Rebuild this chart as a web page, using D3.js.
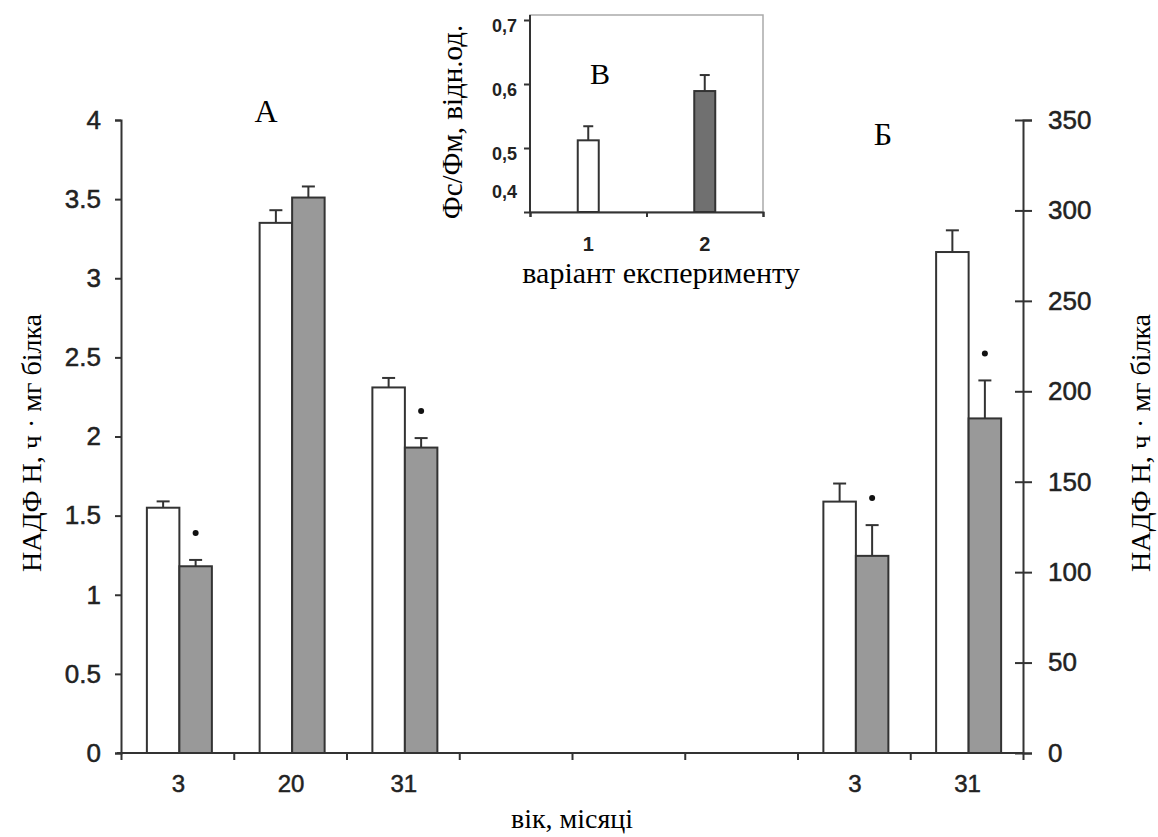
<!DOCTYPE html>
<html>
<head>
<meta charset="utf-8">
<script src="https://cdn.jsdelivr.net/npm/d3@7"></script>
<style>
  body { margin: 0; background: #fff; }
  svg { display: block; }
</style>
</head>
<body>
<svg width="1158" height="837"></svg>
<script>
// Chart data: two panels on one x axis (A on the left scale, Б on the right scale)
//   plus a small inset (В).

var slotLabels = ["3", "20", "31", "", "", "", "3", "31"];

// Panel A (left axis)
var aSlots = [0, 1, 2];
var aControl = [1.55, 3.35, 2.31];
var aControlErr = [0.04, 0.08, 0.06];
var aTreated = [1.18, 3.51, 1.93];
var aTreatedErr = [0.04, 0.07, 0.06];
var aSignif = [true, false, true];

// Panel Б (right axis)
var bSlots = [6, 7];
var bControl = [139, 277];
var bControlErr = [10, 12];
var bTreated = [109, 185];
var bTreatedErr = [17, 21];
var bSignif = [true, true];

var leftTicks = [0, 0.5, 1, 1.5, 2, 2.5, 3, 3.5, 4];
var rightTicks = [0, 50, 100, 150, 200, 250, 300, 350];

// Inset В
var insetCats = ["1", "2"];
var insetVals = [0.512, 0.589];
var insetErr = [0.022, 0.025];
var insetTicks = [0.4, 0.5, 0.6, 0.7];

var axisColor = "#333";
var barStroke = "#333";
var greyFill = "#999";
var sans = "'Liberation Sans', Arial, sans-serif";
var serif = "'Liberation Serif', 'Times New Roman', serif";

var svg = d3.select("svg");

var plot = {left: 121, right: 1023, top: 120, bottom: 753};

// Edges of the 8 slots (ticks sit between categories, Excel style)
var xEdge = d3.scaleLinear().domain([0, slotLabels.length]).range([plot.left, plot.right]);
var xBand = d3.scaleBand().domain(d3.range(slotLabels.length)).range([plot.left, plot.right]);

var yLeft = d3.scaleLinear().domain([0, 4]).range([plot.bottom, plot.top]);
var yRight = d3.scaleLinear().domain([0, 350]).range([plot.bottom, plot.top]);

var barW = 32.5;

function drawPairs(slots, control, controlErr, treated, treatedErr, signif, y) {
    var rows = slots.map(function(s, i) {
        return [
            {slot: s, k: 0, v: control[i], e: controlErr[i], sig: false},
            {slot: s, k: 1, v: treated[i], e: treatedErr[i], sig: signif[i]}
        ];
    }).flat();

    var barX = function(d) {
        return xBand(d.slot) + xBand.bandwidth() / 2 + 2 - barW + d.k * barW;
    };

    // error bars first so the bar outline covers the stem base
    var eb = svg.append("g").selectAll("g").data(rows).enter().append("g");
    eb.append("line")
        .attr("x1", function(d) { return barX(d) + barW / 2; })
        .attr("x2", function(d) { return barX(d) + barW / 2; })
        .attr("y1", function(d) { return y(d.v); })
        .attr("y2", function(d) { return y(d.v + d.e); })
        .attr("stroke", barStroke).attr("stroke-width", 2);
    eb.append("line")
        .attr("x1", function(d) { return barX(d) + barW / 2 - 6.5; })
        .attr("x2", function(d) { return barX(d) + barW / 2 + 6.5; })
        .attr("y1", function(d) { return y(d.v + d.e); })
        .attr("y2", function(d) { return y(d.v + d.e); })
        .attr("stroke", barStroke).attr("stroke-width", 2);

    svg.append("g").selectAll("rect").data(rows).enter().append("rect")
        .attr("x", barX)
        .attr("y", function(d) { return y(d.v); })
        .attr("width", barW)
        .attr("height", function(d) { return y(0) - y(d.v); })
        .attr("fill", function(d) { return d.k ? greyFill : "#fff"; })
        .attr("stroke", barStroke)
        .attr("stroke-width", 2);

    // significance marks
    svg.append("g").selectAll("circle").data(rows.filter(function(d) { return d.sig; }))
        .enter().append("circle")
        .attr("cx", function(d) { return barX(d) + barW / 2; })
        .attr("cy", function(d) { return y(d.v + d.e) - 27; })
        .attr("r", 3)
        .attr("fill", "#111");
}

drawPairs(aSlots, aControl, aControlErr, aTreated, aTreatedErr, aSignif, yLeft);
drawPairs(bSlots, bControl, bControlErr, bTreated, bTreatedErr, bSignif, yRight);

// Left axis
var gl = svg.append("g")
    .attr("transform", "translate(" + plot.left + ",0)")
    .call(d3.axisLeft(yLeft).tickValues(leftTicks).tickSize(6).tickPadding(14)
        .tickFormat(function(d) { return String(d); }));

// Right axis, ticks cross the line
var gr = svg.append("g")
    .attr("transform", "translate(" + plot.right + ",0)")
    .call(d3.axisRight(yRight).tickValues(rightTicks).tickSize(9).tickPadding(16));
gr.selectAll(".tick line").attr("x1", -8);

// Bottom axis with ticks between slots
var gb = svg.append("g")
    .attr("transform", "translate(0," + plot.bottom + ")")
    .call(d3.axisBottom(xEdge).tickValues(d3.range(slotLabels.length + 1))
        .tickSize(7).tickFormat(""));

[gl, gr, gb].forEach(function(g) {
    g.select(".domain").attr("stroke", axisColor).attr("stroke-width", 2);
    g.selectAll(".tick line").attr("stroke", axisColor).attr("stroke-width", 2);
    g.selectAll(".tick text")
        .attr("fill", "#222")
        .attr("stroke", "#222")
        .attr("stroke-width", 0.5)
        .style("font-family", sans)
        .style("font-size", "26px");
});
gb.select(".domain").attr("d", "M" + (plot.left - 4) + ",0H" + plot.right);

// Category labels at slot centres
svg.append("g").selectAll("text").data(slotLabels).enter().append("text")
    .attr("x", function(d, i) { return xBand(i) + xBand.bandwidth() / 2 + 1; })
    .attr("y", 792)
    .attr("text-anchor", "middle")
    .attr("fill", "#222")
    .attr("stroke", "#222")
    .attr("stroke-width", 0.5)
    .style("font-family", sans)
    .style("font-size", "24px")
    .text(function(d) { return d; });

// Titles (serif, as in the original)
svg.append("text")
    .attr("transform", "translate(31,443) rotate(-90)")
    .attr("text-anchor", "middle")
    .attr("dy", "0.35em")
    .style("font-family", serif).style("font-size", "28px")
    .text("НАДФ Н, ч · мг білка");

svg.append("text")
    .attr("transform", "translate(1140,443) rotate(-90)")
    .attr("text-anchor", "middle")
    .attr("dy", "0.35em")
    .style("font-family", serif).style("font-size", "28px")
    .text("НАДФ Н, ч · мг білка");

svg.append("text")
    .attr("x", 572).attr("y", 828)
    .attr("text-anchor", "middle")
    .style("font-family", serif).style("font-size", "28px")
    .text("вік, місяці");

svg.append("text")
    .attr("x", 266).attr("y", 122)
    .attr("text-anchor", "middle")
    .style("font-family", serif).style("font-size", "32px")
    .text("А");

svg.append("text")
    .attr("x", 883).attr("y", 145)
    .attr("text-anchor", "middle")
    .style("font-family", serif).style("font-size", "32px")
    .text("Б");

// ---- Inset В ----
var inset = {left: 530, right: 763, top: 15, bottom: 212};
var ix = d3.scaleBand().domain(insetCats).range([inset.left, inset.right]);
var iy = d3.scaleLinear().domain([0.4, 0.7]).range([inset.bottom, 20]);
var iBarW = 21;

svg.append("rect")
    .attr("x", inset.left).attr("y", inset.top)
    .attr("width", inset.right - inset.left)
    .attr("height", inset.bottom - inset.top)
    .attr("fill", "#fff")
    .attr("stroke", "#aaa")
    .attr("stroke-width", 1.5);

var ig = svg.append("g");
insetCats.forEach(function(c, i) {
    var cx = ix(c) + ix.bandwidth() / 2;
    ig.append("line")
        .attr("x1", cx).attr("x2", cx)
        .attr("y1", iy(insetVals[i])).attr("y2", iy(insetVals[i] + insetErr[i]))
        .attr("stroke", barStroke).attr("stroke-width", 2);
    ig.append("line")
        .attr("x1", cx - 5).attr("x2", cx + 5)
        .attr("y1", iy(insetVals[i] + insetErr[i])).attr("y2", iy(insetVals[i] + insetErr[i]))
        .attr("stroke", barStroke).attr("stroke-width", 2);
    ig.append("rect")
        .attr("x", cx - iBarW / 2)
        .attr("y", iy(insetVals[i]))
        .attr("width", iBarW)
        .attr("height", iy(0.4) - iy(insetVals[i]))
        .attr("fill", i ? "#707070" : "#fff")
        .attr("stroke", barStroke)
        .attr("stroke-width", 2);
});

var igl = svg.append("g")
    .attr("transform", "translate(" + inset.left + ",0)")
    .call(d3.axisLeft(iy).tickValues(insetTicks).tickSize(6).tickPadding(7)
        .tickFormat(function(d) { return d3.format(".1f")(d).replace(".", ","); }));
igl.select(".domain").attr("d", "M0," + inset.top + "V" + inset.bottom);
igl.selectAll(".tick text").attr("dy", "0.65em");
// lowest label sits above the corner, as in the original
igl.selectAll(".tick text").filter(function(d) { return d === 0.4; }).attr("dy", "-0.8em");

var igb = svg.append("g")
    .attr("transform", "translate(0," + inset.bottom + ")")
    .call(d3.axisBottom(d3.scaleLinear().domain([0, 2]).range([inset.left, inset.right]))
        .tickValues([0, 1, 2]).tickSize(5).tickFormat(""));

[igl, igb].forEach(function(g) {
    g.select(".domain").attr("stroke", axisColor).attr("stroke-width", 2);
    g.selectAll(".tick line").attr("stroke", axisColor).attr("stroke-width", 2);
    g.selectAll(".tick text")
        .attr("fill", "#222")
        .style("font-family", sans)
        .style("font-weight", "bold")
        .style("font-size", "18px");
});

svg.append("g").selectAll("text").data(insetCats).enter().append("text")
    .attr("x", function(d) { return ix(d) + ix.bandwidth() / 2; })
    .attr("y", 251)
    .attr("text-anchor", "middle")
    .attr("fill", "#222")
    .style("font-family", sans)
    .style("font-weight", "bold")
    .style("font-size", "20px")
    .text(function(d) { return d; });

svg.append("text")
    .attr("x", 661).attr("y", 283)
    .attr("text-anchor", "middle")
    .style("font-family", serif).style("font-size", "30px")
    .text("варіант експерименту");

svg.append("text")
    .attr("transform", "translate(452,122) rotate(-90)")
    .attr("text-anchor", "middle")
    .attr("dy", "0.35em")
    .style("font-family", serif).style("font-size", "29px")
    .text("Фс/Фм, відн.од.");

svg.append("text")
    .attr("x", 600).attr("y", 84)
    .attr("text-anchor", "middle")
    .style("font-family", serif).style("font-size", "30px")
    .text("В");
</script>
</body>
</html>
